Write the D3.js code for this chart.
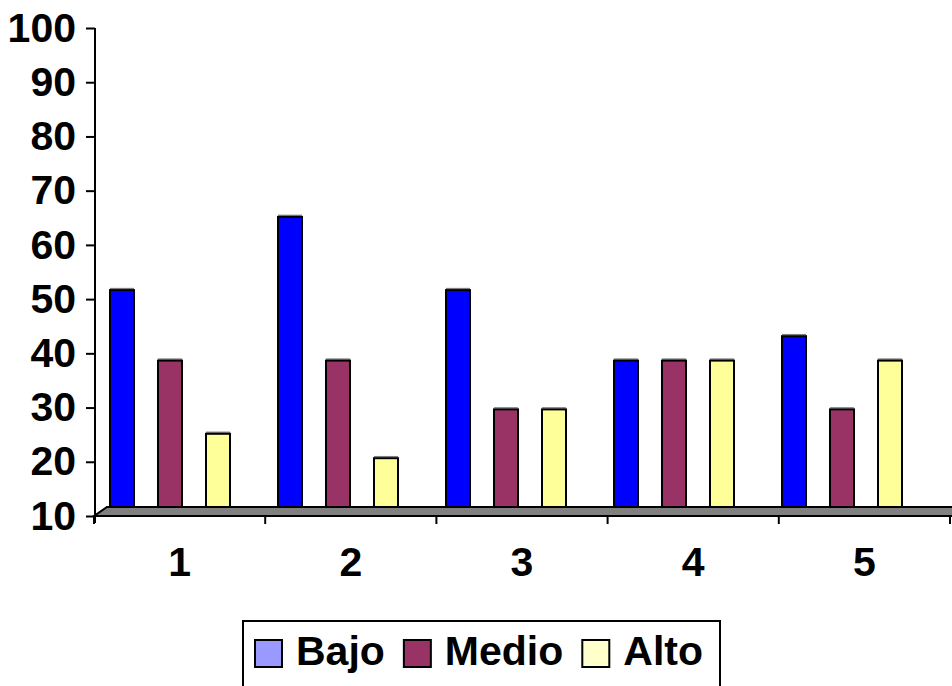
<!DOCTYPE html>
<html>
<head>
<meta charset="utf-8">
<script src="https://cdn.jsdelivr.net/npm/d3@7"></script>
<style>
    body { margin: 0; background: #fff; }
    text { font-family: "Liberation Sans", Arial, sans-serif; font-weight: bold; }
</style>
</head>
<body>
<div id="chart"></div>
<script>
const categories = ["1", "2", "3", "4", "5"];
const seriesNames = ["Bajo", "Medio", "Alto"];
const bajo = [50, 63.5, 50, 37, 41.5];
const medio = [37, 37, 28, 37, 28];
const alto = [23.5, 19, 28, 37, 37];
const yTicks = [10, 20, 30, 40, 50, 60, 70, 80, 90, 100];

const barColors = { Bajo: "#0000ff", Medio: "#993366", Alto: "#ffff99" };
const legendColors = { Bajo: "#9999ff", Medio: "#993366", Alto: "#ffffcc" };

const width = 952;
const height = 686;
// oblique offset of the back plane (floor depth)
const depth = { x: 13, y: 9 };

const svg = d3.select("#chart").append("svg").attr("width", width).attr("height", height);

const y = d3.scaleLinear().domain([10, 100]).range([516, 28]);
const yBack = v => y(v) - depth.y;

// front edge categories (axis ticks + labels)
const xFront = d3.scaleBand().domain(categories).range([94, 950]);
// bars sit on the back plane
const x0 = d3.scaleBand().domain(categories).range([86, 926]);
const x1 = d3.scaleBand().domain(seriesNames).range([24, 144]).paddingInner(0.5);

// floor
const x0Front = 94, x1Front = 970;
svg.append("path")
    .attr("d", `M${x0Front},${y(10)} L${x1Front},${y(10)} L${x1Front + depth.x},${yBack(10)} L${x0Front + depth.x},${yBack(10)} Z`)
    .attr("fill", "#808080")
    .attr("stroke", "#000")
    .attr("stroke-width", 2);

// bars
const rows = categories.map((c, i) => ({ cat: c, values: [bajo[i], medio[i], alto[i]] }));
const groups = svg.append("g").selectAll("g")
    .data(rows)
    .join("g")
    .attr("transform", d => `translate(${x0(d.cat)},0)`);

groups.selectAll("line.top")
    .data(d => d.values.map((v, j) => ({ name: seriesNames[j], v })))
    .join("line")
    .attr("class", "top")
    .attr("x1", d => x1(d.name))
    .attr("x2", d => x1(d.name) + x1.bandwidth())
    .attr("y1", d => yBack(d.v) - 1.5)
    .attr("y2", d => yBack(d.v) - 1.5)
    .attr("stroke", "#808080")
    .attr("stroke-width", 1.5);

groups.selectAll("rect")
    .data(d => d.values.map((v, j) => ({ name: seriesNames[j], v })))
    .join("rect")
    .attr("x", d => x1(d.name))
    .attr("width", x1.bandwidth())
    .attr("y", d => yBack(d.v))
    .attr("height", d => yBack(10) - yBack(d.v))
    .attr("fill", d => barColors[d.name])
    .attr("stroke", "#000")
    .attr("stroke-width", 2);

// y axis
const yAxis = svg.append("g")
    .attr("transform", "translate(95,0)")
    .call(d3.axisLeft(y).tickValues(yTicks).tickSize(9).tickPadding(10));
yAxis.select(".domain").attr("stroke-width", 2).attr("d", `M0,${y(100)}V${y(10) + 7}`);
yAxis.selectAll(".tick line").attr("stroke-width", 2);
yAxis.selectAll(".tick text").attr("font-size", 41).attr("fill", "#000")
    .style("font-family", "'Liberation Sans', Arial, sans-serif").style("font-weight", "bold");

// category boundary ticks
const boundaries = categories.map(c => xFront(c)).concat([xFront.range()[1]]);
svg.append("g").selectAll("line")
    .data(boundaries)
    .join("line")
    .attr("x1", d => d).attr("x2", d => d)
    .attr("y1", y(10)).attr("y2", y(10) + 8)
    .attr("stroke", "#000")
    .attr("stroke-width", 2);

svg.append("g").selectAll("text")
    .data(categories)
    .join("text")
    .attr("x", d => xFront(d) + xFront.bandwidth() / 2)
    .attr("y", 576)
    .attr("text-anchor", "middle")
    .attr("font-size", 41)
    .text(d => d);

// legend
const legend = svg.append("g");
legend.append("rect")
    .attr("x", 243).attr("y", 621)
    .attr("width", 477).attr("height", 70)
    .attr("fill", "#fff")
    .attr("stroke", "#000")
    .attr("stroke-width", 2);

let lx = 255;
seriesNames.forEach(name => {
    legend.append("rect")
        .attr("x", lx).attr("y", 640)
        .attr("width", 27).attr("height", 27)
        .attr("fill", legendColors[name])
        .attr("stroke", "#000")
        .attr("stroke-width", 2);
    const t = legend.append("text")
        .attr("x", lx + 41).attr("y", 665)
        .attr("font-size", 41)
        .text(name);
    lx += 41 + t.node().getComputedTextLength() + 19;
});
</script>
</body>
</html>
